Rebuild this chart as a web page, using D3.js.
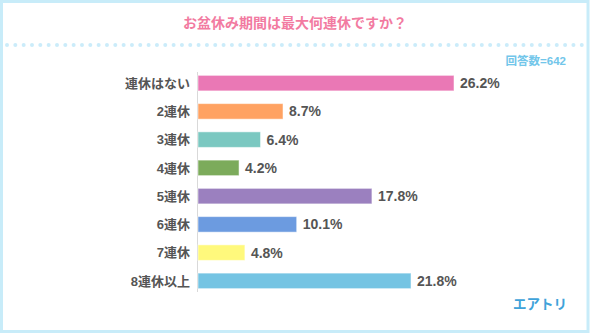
<!DOCTYPE html>
<html>
<head>
<meta charset="utf-8">
<script src="https://cdn.jsdelivr.net/npm/d3@7"></script>
<style>
  html, body { margin: 0; padding: 0; background: #fff; }
  svg { display: block; }
</style>
</head>
<body>
<svg id="chart" width="590" height="333"></svg>
<script>
const titleText = "お盆休み期間は最大何連休ですか？";
const sampleText = "回答数=642";
const brandText = "エアトリ";
const categories = ["連休はない", "2連休", "3連休", "4連休", "5連休", "6連休", "7連休", "8連休以上"];
const values = [26.2, 8.7, 6.4, 4.2, 17.8, 10.1, 4.8, 21.8];
const colors = ["#ea78b5", "#ffa262", "#7bc8c1", "#7cab5b", "#9b80bf", "#6c9be0", "#fff97c", "#75c4e3"];

const W = 590, H = 333;
const svg = d3.select("#chart");
const font = "'Liberation Sans', 'Noto Sans CJK JP', sans-serif";

// frame
svg.append("rect").attr("x", 1.5).attr("y", 1.5).attr("width", W - 3.5).attr("height", H - 3)
  .attr("fill", "#fff").attr("stroke", "#c8ecf9").attr("stroke-width", 3);

// title
svg.append("text").attr("x", W / 2).attr("y", 28).attr("text-anchor", "middle")
  .attr("font-family", font).attr("font-weight", "bold").attr("font-size", 14)
  .attr("fill", "#f27ba1").text(titleText);

// dotted separator
const dots = d3.range(7, 586, 8.33);
svg.append("g").selectAll("circle").data(dots).join("circle")
  .attr("cx", d => d).attr("cy", 45).attr("r", 2).attr("fill", "#cbecfa");

svg.append("text").attr("x", 566).attr("y", 65).attr("text-anchor", "end")
  .attr("font-family", font).attr("font-weight", "bold").attr("font-size", 11.5)
  .attr("fill", "#72c6ea").text(sampleText);

// scales
const x = d3.scaleLinear().domain([0, 26.2]).range([198, 454]);
const y = d3.scaleBand().domain(categories).range([69, 295]).paddingInner(0.45).paddingOuter(0.225);

// vertical baseline
svg.append("line").attr("x1", 197.5).attr("x2", 197.5).attr("y1", 72).attr("y2", 292)
  .attr("stroke", "#d9d9d9").attr("stroke-width", 1);

const rows = svg.append("g").selectAll("g").data(categories).join("g");

rows.append("rect")
  .attr("x", x(0)).attr("y", d => y(d))
  .attr("width", (d, i) => x(values[i]) - x(0))
  .attr("height", y.bandwidth())
  .attr("fill", (d, i) => colors[i])
  .attr("stroke", "rgba(255,255,255,0.5)").attr("stroke-width", 1);

rows.append("text")
  .attr("x", 190).attr("y", d => y(d) + y.bandwidth() / 2)
  .attr("dy", "0.36em").attr("text-anchor", "end")
  .attr("font-family", font).attr("font-weight", "bold").attr("font-size", 13)
  .attr("fill", "#555").text(d => d);

rows.append("text")
  .attr("x", (d, i) => x(values[i]) + 6).attr("y", d => y(d) + y.bandwidth() / 2)
  .attr("dy", "0.36em")
  .attr("font-family", font).attr("font-weight", "bold").attr("font-size", 14)
  .attr("fill", "#555").text((d, i) => values[i].toFixed(1) + "%");

// brand
svg.append("text").attr("x", 567).attr("y", 309).attr("text-anchor", "end")
  .attr("font-family", font).attr("font-weight", "bold").attr("font-size", 13.5)
  .attr("fill", "#3fa3da").text(brandText);
</script>
</body>
</html>
